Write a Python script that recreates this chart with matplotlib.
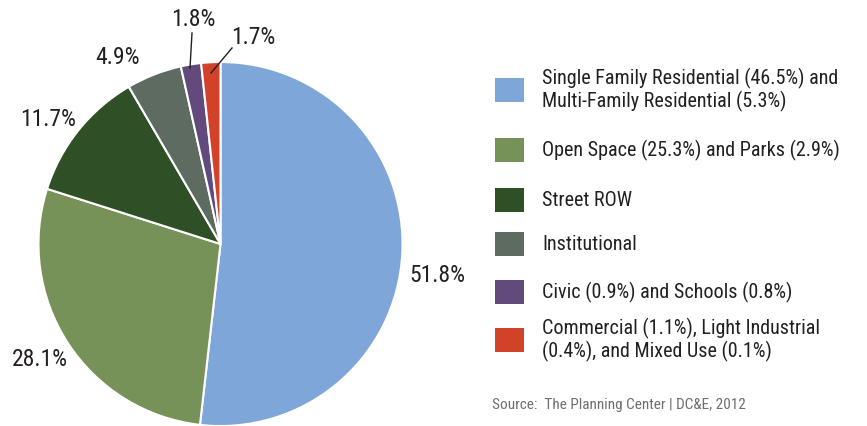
import matplotlib
matplotlib.use("Agg")
from matplotlib import pyplot as plt
from matplotlib.patches import Rectangle

# land use shares, clockwise from 12 o'clock
shares = [51.8, 28.1, 11.7, 4.9, 1.8, 1.7]
pct_labels = ["51.8%", "28.1%", "11.7%", "4.9%", "1.8%", "1.7%"]
colors = ["#7ea6d8", "#769258", "#2f5027", "#5e6b61", "#624a7c", "#d24229"]
legend_labels = [
    "Single Family Residential (46.5%) and\nMulti-Family Residential (5.3%)",
    "Open Space (25.3%) and Parks (2.9%)",
    "Street ROW",
    "Institutional",
    "Civic (0.9%) and Schools (0.8%)",
    "Commercial (1.1%), Light Industrial\n(0.4%), and Mixed Use (0.1%)",
]
source = "Source:  The Planning Center | DC&E, 2012"

plt.rcParams["font.family"] = ["Roboto Condensed", "DejaVu Sans"]

W, H = 867, 426
fig = plt.figure(figsize=(W / 100, H / 100), dpi=100)
ax = fig.add_axes([0, 0, 1, 1])

cx, cy, r = 220.5, H - 244, 182
ax.pie(shares, colors=colors, startangle=90, counterclock=False,
       center=(cx, cy), radius=r, frame=True,
       wedgeprops=dict(edgecolor="white", linewidth=1.5))
ax.set_xlim(0, W)
ax.set_ylim(0, H)
ax.set_aspect("equal")
ax.axis("off")

# percentage labels around the pie
label_pos = [(437, 275), (40, 360), (48, 120), (117, 57), (193, 20), (253, 37)]
for txt, (x, y) in zip(pct_labels, label_pos):
    ax.text(x, H - y, txt, ha="center", va="center", fontsize=17, color="#231f20")

# leader lines for the two thin slices
ax.plot([192, 190], [H - 33, H - 68], color="#231f20", lw=1)
ax.plot([232, 211], [H - 48, H - 73], color="#231f20", lw=1)

# legend
rows = [90, 150, 200, 244, 292, 340]
for lab, col, y in zip(legend_labels, colors, rows):
    ax.add_patch(Rectangle((495, H - y - 12), 29, 24, color=col, lw=0))
    ax.text(542, H - y, lab, ha="left", va="center", fontsize=14.5,
            color="#231f20", linespacing=1.15)

ax.text(492, H - 405, source, ha="left", va="center", fontsize=11, color="#6d6e71")

fig.savefig("out.png", dpi=100)
